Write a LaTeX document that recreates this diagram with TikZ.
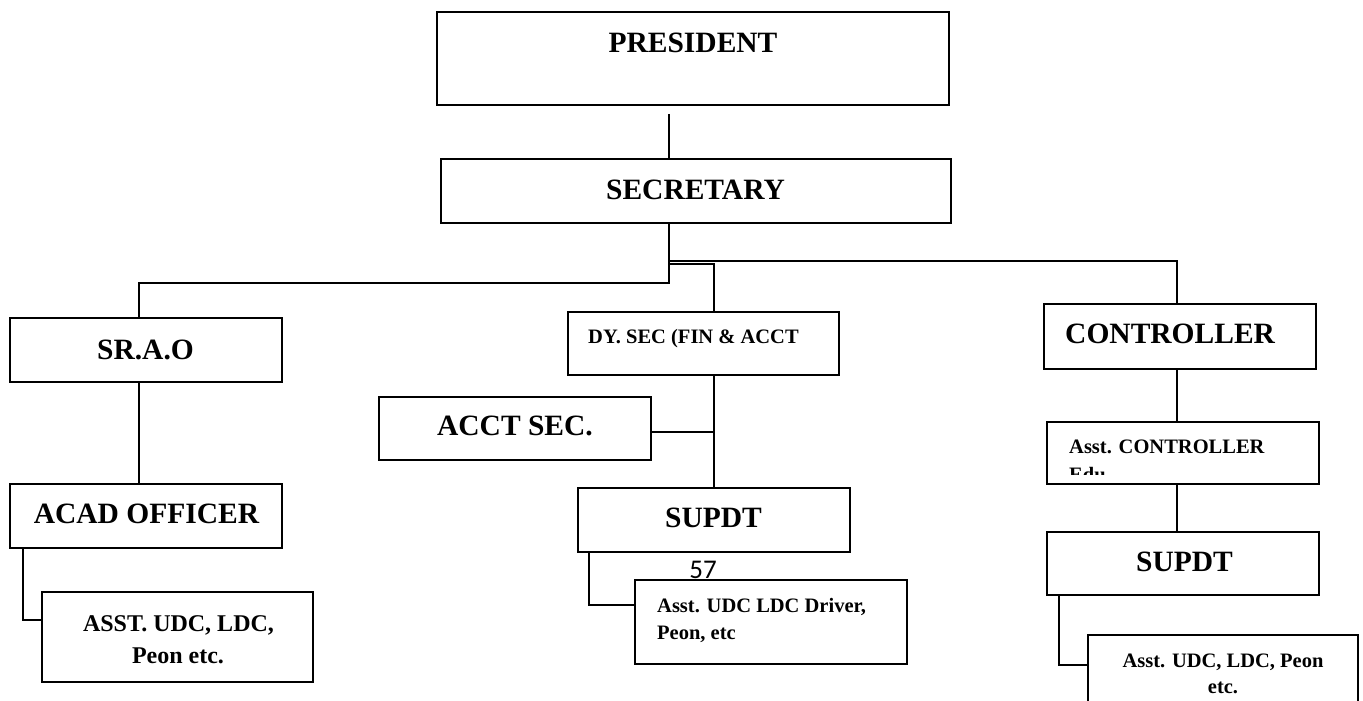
\documentclass[tikz,border=0pt]{standalone}
\usepackage{fontspec}
\setmainfont{Liberation Serif}
\newfontfamily\calfont{Carlito}
\tikzset{
  box/.style={draw, line width=1.7pt, inner sep=0pt, minimum width=272pt, minimum height=64pt},
  wire/.style={line width=1.7pt},
  big/.style={font=\fontsize{29.5}{34}\selectfont\bfseries, inner sep=0pt, anchor=base},
  mid/.style={font=\fontsize{24}{29}\selectfont\bfseries, inner sep=0pt, anchor=base},
  small/.style={font=\fontsize{20.5}{25}\selectfont\bfseries, inner sep=0pt, anchor=base west}
}
\begin{document}
\begin{tikzpicture}[x=1pt, y=-1pt]
  \path[use as bounding box] (0,0) rectangle (1363,701);
  \clip (0,0) rectangle (1363,701);
  % top of the chart
  \node[box, minimum width=512pt, minimum height=93pt] (pres) at (693,58.5) {};
  \node[box, minimum width=510pt] (sec) at (696,191) {};
  \node[big] (presT) at (693,53) {PRESIDENT};
  \node[big] (secT) at (695.5,199) {SECRETARY};
  % left branch
  \node[box] (srao) at (146,350) {};
  \node[box] (acad) at (146,516) {};
  \node[box, minimum width=271pt, minimum height=90pt] (asstA) at (177.5,637) {};
  \node[big] (sraoT) at (145.5,359) {SR.A.O};
  \node[big] (acadT) at (146.5,523) {ACAD OFFICER};
  \node[mid] (asstA1) at (178.5,631) {ASST. UDC, LDC,};
  \node[mid] (asstA2) at (178,663) {Peon etc.};
  % middle branch
  \node[box, minimum width=271pt, minimum height=63pt] (dysec) at (703.5,343.5) {};
  \node[box, minimum height=63pt] (acct) at (515,428.5) {};
  \node[box] (supdtB) at (714,520) {};
  \node[box, minimum height=84pt] (asstB) at (771,622) {};
  \node[small] (dysecT) at (588,343) {DY. SEC (FIN \& ACCT};
  \node[big] (acctT) at (515,435) {ACCT SEC.};
  \node[big] (supdtBT) at (713.5,527) {SUPDT};
  \node[anchor=base, inner sep=0pt, font=\calfont\fontsize{27}{32}\selectfont] (pageno) at (703,578) {57};
  \node[small] (asstB1) at (657,612) {Asst. UDC LDC Driver,};
  \node[small] (asstB2) at (657,639) {Peon, etc};
  % right branch
  \node[box, minimum height=65pt] (ctrl) at (1180,336.5) {};
  \node[box, minimum height=62pt] (actrl) at (1183,453) {};
  \node[box, minimum height=63pt] (supdtC) at (1183,563.5) {};
  \node[box, minimum width=270pt, minimum height=90pt] (asstC) at (1223,680) {};
  \node[big, anchor=base west] (ctrlT) at (1065,343) {CONTROLLER};
  \node[small] (actrlT) at (1069,453) {Asst. CONTROLLER};
  \begin{scope}
    \clip (1047,422) rectangle (1319,474);
    \node[small] (actrlE) at (1069,481) {Edu};
  \end{scope}
  \node[big] (supdtCT) at (1184.5,571) {SUPDT};
  \node[small, anchor=base] (asstC1) at (1223,667) {Asst. UDC, LDC, Peon};
  \node[small, anchor=base] (asstC2) at (1223,693) {etc.};
  % connectors
  \coordinate (hub) at (669,261);
  \draw[wire] (hub |- pres.south) ++(0,8) -- (hub |- sec.north);
  \draw[wire] (sec.south -| hub) -- ++(0,59) -| ([xshift=-7pt]srao.north);
  \draw[wire] (hub) -| ([xshift=-3pt]ctrl.north);
  \draw[wire] (hub) ++(0,3) -| (supdtB.north |- dysec.north);
  \draw[wire] (supdtB.north |- dysec.south) -- (supdtB.north);
  \draw[wire] ([yshift=-3.5pt]acct.east) -- ([yshift=-3.5pt]acct.east -| supdtB.north);
  \draw[wire] ([xshift=12pt]supdtB.south west) |- ([yshift=17pt]asstB.west);
  \draw[wire] ([xshift=-7pt]srao.south) -- ([xshift=-7pt]acad.north);
  \draw[wire] ([xshift=14pt]acad.south west) |- ([yshift=17pt]asstA.west);
  \draw[wire] ([xshift=-3pt]ctrl.south) -- ([xshift=-6pt]actrl.north);
  \draw[wire] ([xshift=-6pt]actrl.south) -- ([xshift=-6pt]supdtC.north);
  \draw[wire] ([xshift=13pt]supdtC.south west) |- ([yshift=15pt]asstC.west);
\end{tikzpicture}
\end{document}
